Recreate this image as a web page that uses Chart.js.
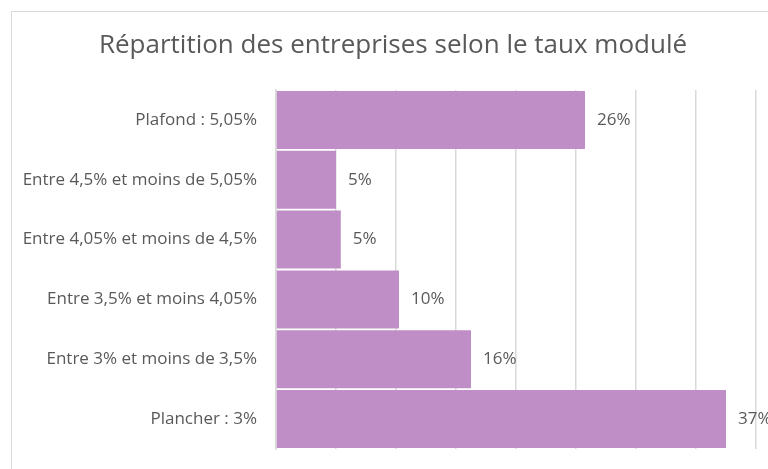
<!DOCTYPE html>
<html>
<head>
<meta charset="utf-8">
<script src="https://cdn.jsdelivr.net/npm/chart.js@4"></script>
<style>
  html, body { margin: 0; padding: 0; background: #fff; overflow: hidden; }
  #wrap { position: relative; width: 768px; height: 469px; }
  #frame {
    position: absolute; left: 11px; top: 11px; width: 800px; height: 500px;
    border: 1px solid #d9d9d9; box-sizing: border-box;
  }
  canvas { position: absolute; left: 0; top: 0; }
</style>
</head>
<body>
<div id="wrap">
  <div id="frame"></div>
  <canvas id="my-chart" width="768" height="469"></canvas>
</div>
<script>
'use strict';

// #pragma Data

let chartTitle = 'Répartition des entreprises selon le taux modulé';
let categories = [
  'Plafond : 5,05%',
  'Entre 4,5% et moins de 5,05%',
  'Entre 4,05% et moins de 4,5%',
  'Entre 3,5% et moins 4,05%',
  'Entre 3% et moins de 3,5%',
  'Plancher : 3%'
];
let shares = [25.75, 5.0, 5.4, 10.25, 16.25, 37.5];
let shareLabels = ['26%', '5%', '5%', '10%', '16%', '37%'];

let axisMax = 40;
let axisStep = 5;

let textColor = '#595959';
let barColor = '#c08ec6';
let lineColor = '#d9d9d9';
let fontFamily = "'Open Sans', 'Noto Sans', sans-serif";

// #pragma Plugins

// title sits centred over the framed area, not the canvas
let chartHeading = {
  id: 'chartHeading',
  afterDraw(chart) {
    let ctx = chart.ctx;
    ctx.save();
    ctx.fillStyle = textColor;
    ctx.font = '26px ' + fontFamily;
    ctx.textAlign = 'center';
    ctx.textBaseline = 'middle';
    ctx.fillText(chartTitle, 393, 46);
    ctx.restore();
  }
};

// draws the value labels just past the end of each bar
let barLabels = {
  id: 'barLabels',
  afterDatasetsDraw(chart) {
    let ctx = chart.ctx;
    let meta = chart.getDatasetMeta(0);
    ctx.save();
    ctx.fillStyle = textColor;
    ctx.font = '17px ' + fontFamily;
    ctx.textAlign = 'left';
    ctx.textBaseline = 'middle';
    for (let i = 0; i < meta.data.length; i++) {
      let bar = meta.data[i];
      ctx.fillText(shareLabels[i], bar.x + 12, bar.y);
    }
    ctx.restore();
  }
};

// #pragma Chart

let chartContext = document.getElementById('my-chart').getContext('2d');

let chartConfig = {
  type: 'bar',
  data: {
    labels: categories,
    datasets: [{
      data: shares,
      backgroundColor: barColor,
      borderWidth: 0,
      barPercentage: 0.97,
      categoryPercentage: 1.0,
    }],
  },
  options: {
    indexAxis: 'y',
    responsive: false,
    animation: false,
    layout: {
      padding: { left: 0, right: 12, top: 90, bottom: 20 }
    },
    plugins: {
      legend: { display: false },
      tooltip: { enabled: false },
      title: { display: false },
    },
    scales: {
      x: {
        min: 0,
        max: axisMax,
        ticks: { display: false, stepSize: axisStep },
        grid: { color: lineColor, drawTicks: false, lineWidth: 1.5 },
        border: { display: false },
        afterFit(scale) {
          scale.height = 0;
        },
      },
      y: {
        grid: { display: false, drawTicks: false },
        border: { display: true, color: lineColor, width: 1.5 },
        ticks: {
          color: textColor,
          font: { family: fontFamily, size: 17 },
          padding: 19,
        },
        afterFit(scale) {
          scale.width = 276;
          scale.paddingTop = 0;
          scale.paddingBottom = 0;
        },
      },
    },
  },
  plugins: [barLabels, chartHeading],
};

let myChart = new Chart(chartContext, chartConfig);
</script>
</body>
</html>
